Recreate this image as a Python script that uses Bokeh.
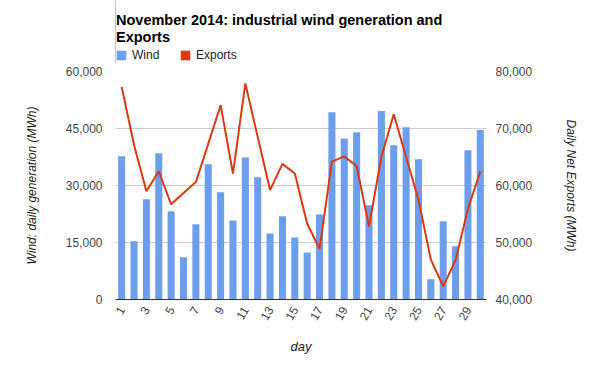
import math
from bokeh.plotting import figure
from bokeh.layouts import column
from bokeh.models import (Range1d, LinearAxis, FixedTicker, NumeralTickFormatter,
                          Label, Legend, LegendItem, ColumnDataSource)
from bokeh.embed import file_html
from bokeh.resources import INLINE

# ---- data ----
days = list(range(1, 31))
wind = [37700, 15300, 26400, 38500, 23200, 11100, 19800, 35600, 28200, 20800,
        37400, 32200, 17400, 21900, 16300, 12400, 22400, 49300, 42400, 44000,
        24800, 49600, 40600, 45300, 36900, 5300, 20600, 14000, 39300, 44600]
exports = [77300, 67100, 59000, 62500, 56700, 58700, 60600, 67300, 74100, 62100,
           77900, 68500, 59200, 63800, 62100, 53300, 48900, 64200, 65100, 63400,
           52800, 65000, 72500, 65000, 57500, 47000, 42300, 46900, 55900, 62500]
x_ticks = list(range(1, 30, 2))
left_ticks = [0, 15000, 30000, 45000, 60000]
right_ticks = [40000, 50000, 60000, 70000, 80000]

title_line1 = "November 2014: industrial wind generation and"
title_line2 = "Exports"

BLUE = "#6d9eeb"
RED = "#dc3912"
FONT = "Liberation Sans"

TOP_H = 63

# ---------- header figure: title + legend ----------
h = figure(width=600, height=TOP_H, output_backend="svg", toolbar_location=None,
           x_range=Range1d(0, 1), y_range=Range1d(0, 1),
           x_axis_type=None, y_axis_type=None,
           min_border_left=115, min_border_right=0, min_border_top=0,
           min_border_bottom=0)
h.outline_line_color = None
h.grid.visible = False

for txt, yy in ((title_line1, TOP_H - 19), (title_line2, TOP_H - 36.5)):
    h.add_layout(Label(x=0.5, y=yy, x_units="screen", y_units="screen", text=txt,
                       text_font=FONT, text_font_style="bold",
                       text_font_size="14.5px", text_color="#000000",
                       text_baseline="alphabetic", text_align="left"))

lw = h.vbar(x=[-5], top=[1], width=0.5, fill_color=BLUE, line_color=None)
le = h.vbar(x=[-5], top=[1], width=0.5, fill_color=RED, line_color=None)
legend = Legend(items=[LegendItem(label="Wind", renderers=[lw]),
                       LegendItem(label="Exports", renderers=[le])],
                location=(0, 1), orientation="horizontal")
legend.border_line_color = None
legend.background_fill_alpha = 0
legend.padding = 0
legend.margin = 0
legend.spacing = 7
legend.label_standoff = 5
legend.glyph_width = 12
legend.glyph_height = 12
legend.label_width = 40
legend.label_height = 12
legend.label_text_font = FONT
legend.label_text_font_size = "12px"
legend.label_text_color = "#222222"
h.add_layout(legend, "center")

# ---------- main chart ----------
src = ColumnDataSource(dict(day=days, wind=wind, exports=exports))

p = figure(width=600, height=371 - TOP_H, output_backend="svg",
           toolbar_location=None,
           x_range=Range1d(0.5, 30.5), y_range=Range1d(0, 60000),
           min_border_left=115, min_border_right=114, min_border_top=8,
           min_border_bottom=72)
p.extra_y_ranges = {"exp": Range1d(40000, 80000)}
p.outline_line_color = None
p.xgrid.visible = False
p.ygrid.grid_line_color = "#cccccc"
p.ygrid.ticker = FixedTicker(ticks=left_ticks)

bars = p.vbar(x="day", top="wind", width=0.57, source=src, fill_color=BLUE,
              line_color=None)
line = p.line(x="day", y="exports", source=src, y_range_name="exp",
              line_color=RED, line_width=2)

# bottom axis
xa = p.xaxis[0]
xa.ticker = FixedTicker(ticks=x_ticks)
xa.major_label_orientation = math.radians(60)
xa.axis_line_color = "#333333"
xa.axis_line_width = 1
xa.major_tick_line_color = None
xa.minor_tick_line_color = None
xa.major_tick_out = 0
xa.major_tick_in = 0
xa.major_label_standoff = 8
xa.major_label_text_font = FONT
xa.major_label_text_font_size = "12px"
xa.major_label_text_color = "#444444"
xa.axis_label = "day"
xa.axis_label_text_font = FONT
xa.axis_label_text_font_style = "italic"
xa.axis_label_text_font_size = "13px"
xa.axis_label_text_color = "#222222"
xa.axis_label_standoff = 12

# left axis
ya = p.yaxis[0]
ya.ticker = FixedTicker(ticks=left_ticks)
ya.formatter = NumeralTickFormatter(format="0,0")
ya.axis_line_color = None
ya.major_tick_line_color = None
ya.minor_tick_line_color = None
ya.major_tick_out = 0
ya.major_tick_in = 0
ya.major_label_standoff = 13
ya.major_label_text_font = FONT
ya.major_label_text_font_size = "12px"
ya.major_label_text_color = "#444444"
ya.axis_label = "Wind: daily generation (MWh)"
ya.axis_label_text_font = FONT
ya.axis_label_text_font_style = "italic"
ya.axis_label_text_font_size = "12px"
ya.axis_label_text_color = "#222222"
ya.axis_label_standoff = 24

# right axis
ra = LinearAxis(y_range_name="exp", ticker=FixedTicker(ticks=right_ticks),
                formatter=NumeralTickFormatter(format="0,0"))
ra.axis_line_color = None
ra.major_tick_line_color = None
ra.minor_tick_line_color = None
ra.major_tick_out = 0
ra.major_tick_in = 0
ra.major_label_standoff = 9
ra.major_label_text_font = FONT
ra.major_label_text_font_size = "12px"
ra.major_label_text_color = "#444444"
ra.axis_label = "Daily Net Exports (MWh)"
ra.axis_label_text_font = FONT
ra.axis_label_text_font_style = "italic"
ra.axis_label_text_font_size = "12px"
ra.axis_label_text_color = "#222222"
ra.axis_label_standoff = 29
p.add_layout(ra, "right")

layout = column(h, p, spacing=0)
open("out.html", "w").write(file_html(layout, INLINE))
